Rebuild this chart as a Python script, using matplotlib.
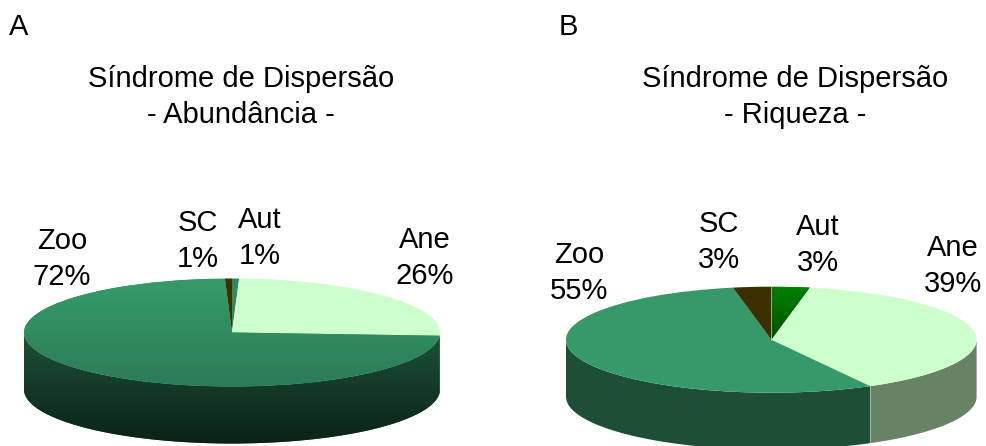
import numpy as np
import matplotlib
matplotlib.use('Agg')
import matplotlib.pyplot as plt

plt.rcParams['font.family'] = ['Liberation Sans', 'DejaVu Sans']

W, H = 986, 446

names = ['Aut', 'Ane', 'Zoo', 'SC']
# slice sizes as measured on the picture (A) / printed labels (both)
abund = [0.55, 25.4, 73.5, 0.55]
abund_labels = ['1%', '26%', '72%', '1%']
riqueza = [3, 39, 55, 3]
riqueza_labels = ['3%', '39%', '55%', '3%']

DEPTH = 57


def gradient(ax, c0, c1, clip, y0, y1):
    c = np.array([matplotlib.colors.to_rgb(c0), matplotlib.colors.to_rgb(c1)])
    t = np.linspace(0, 1, 128)[:, None]
    img = (c[0] * (1 - t) + c[1] * t)[:, None, :]
    im = ax.imshow(img, extent=(-1, 1, y1, y0), origin='upper', aspect='auto', zorder=clip.get_zorder() + 0.1)
    im.set_clip_path(clip)


def draw_pie(cx, cy, rx, ry, values, top, side, edge):
    d = DEPTH / ry
    # axes runs from the ellipse top down to the bottom of the rim
    ax = fig.add_axes([(cx - rx) / W, 1 - (cy + ry + DEPTH) / H, 2 * rx / W, (2 * ry + DEPTH) / H])
    ax.patch.set_alpha(0)
    wedges, _ = ax.pie(values, colors=[t[0] for t in top], startangle=90, counterclock=False,
                       wedgeprops={'linewidth': 0}, frame=False)
    ax.set_aspect('auto')

    # rim: only the front half of the ellipse shows
    bounds = 90 - np.cumsum([0] + list(values)) * 360 / sum(values)
    for i in range(len(values)):
        a0, a1 = bounds[i + 1], bounds[i]
        ranges = [(a0, a1), (a0 - 360, a1 - 360)] if a1 > 0 else [(a0, a1)]
        for lo, hi in ranges:
            lo, hi = max(lo, -180), min(hi, 0)
            if hi <= lo:
                continue
            t = np.radians(np.linspace(lo, hi, 120))
            xs = np.r_[np.cos(t), np.cos(t)[::-1]]
            ys = np.r_[np.sin(t), np.sin(t)[::-1] - d]
            poly = ax.fill(xs, ys, color=side[i][0], lw=0, zorder=1)[0]
            if side[i][1]:
                gradient(ax, side[i][0], side[i][1], poly, -0.1, -1 - d)

    for w, (c0, c1) in zip(wedges, top):
        w.set_zorder(3)
        if c1:
            gradient(ax, c0, c1, w, 1, -1)

    # thin light separators, only where the original shows them
    if edge:
        for a in bounds[1:-1]:
            r = np.radians(a)
            if np.sin(r) < 0:
                ax.plot([np.cos(r)] * 2, [np.sin(r), np.sin(r) - d], color=edge, lw=0.5, zorder=2)
        ax.plot([0, 0], [0, 1], color=edge, lw=0.5, zorder=4)

    ax.set_xlim(-1, 1)
    ax.set_ylim(-1 - d, 1)
    ax.axis('off')


fig = plt.figure(figsize=(W / 100, H / 100), dpi=100)

top_a = [('#2f8a5c', None), ('#ccffcc', None), ('#369b69', '#2c7c55'), ('#3a3000', None)]
side_a = [('#1d4f36', None), ('#678265', None), ('#1c4f36', '#0a2215'), ('#1c1800', None)]
draw_pie(232, 332.5, 208, 54, abund, top_a, side_a, None)

top_b = [('#008000', '#002000'), ('#ccffcc', None), ('#359a68', None), ('#3a3000', None)]
side_b = [('#004000', None), ('#678265', None), ('#1d4f36', None), ('#1c1800', None)]
draw_pie(771.3, 339.7, 205.3, 53, riqueza, top_b, side_b, '#c8c8b4')


def label(x, y, s, size=21):
    fig.text(x / W, 1 - y / H, s, ha='center', va='center', fontsize=size, color='black', linespacing=1.4)


label(19, 27, 'A')
label(568, 27, 'B')
label(241, 97, 'Síndrome de Dispersão\n- Abundância -')
label(795, 97, 'Síndrome de Dispersão\n- Riqueza -')

# A labels, in the order of names
for n, p, x, y in zip(names, abund_labels, [260, 425, 62, 198], [238, 258, 259, 241]):
    label(x, y, n + '\n' + p)
# B labels
for n, p, x, y in zip(names, riqueza_labels, [818, 953, 579, 719], [245, 266, 273, 242]):
    label(x, y, n + '\n' + p)

fig.savefig('out.png', dpi=100)
